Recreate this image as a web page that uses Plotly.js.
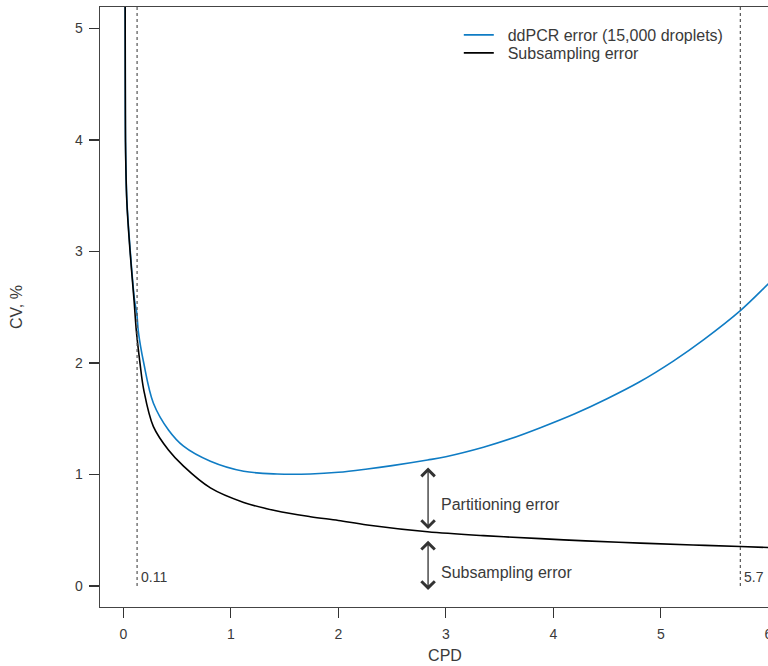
<!DOCTYPE html>
<html>
<head>
<meta charset="utf-8">
<script src="https://cdn.plot.ly/plotly-3.0.1.min.js"></script>
<style>
html, body { margin: 0; padding: 0; overflow: hidden; background: #fff; }
#chart { width: 800px; height: 666px; }
</style>
</head>
<body>
<div id="chart"></div>
<script>
// Series
const subX = [0.017, 0.018, 0.020, 0.032, 0.062, 0.100, 0.120, 0.155, 0.19, 0.28, 0.42, 0.56, 0.81, 1.12, 1.42, 1.74, 2.0, 2.27, 2.83, 3.35, 3.88, 4.3, 4.81, 5.3, 5.74, 6.0, 6.2];
const subY = [5.30, 4.60, 4.00, 3.46, 3.01, 2.56, 2.30, 2.00, 1.76, 1.43, 1.22, 1.075, 0.88, 0.75, 0.675, 0.622, 0.588, 0.548, 0.487, 0.452, 0.425, 0.405, 0.385, 0.368, 0.355, 0.345, 0.338];

const ddX = [0.017, 0.018, 0.020, 0.033, 0.064, 0.105, 0.125, 0.14, 0.19, 0.28, 0.42, 0.56, 0.81, 1.12, 1.43, 1.74, 2.0, 2.27, 2.5, 2.83, 3.0, 3.35, 3.6, 3.88, 4.2, 4.50, 4.8, 5.12, 5.4, 5.74, 6.0, 6.2];
const ddY = [5.30, 4.60, 4.00, 3.46, 3.01, 2.56, 2.45, 2.28, 2.00, 1.64, 1.40, 1.255, 1.12, 1.03, 1.005, 1.005, 1.02, 1.05, 1.08, 1.13, 1.16, 1.245, 1.32, 1.42, 1.545, 1.68, 1.83, 2.02, 2.21, 2.47, 2.71, 2.90];

const seriesNames = ["ddPCR error (15,000 droplets)", "Subsampling error"];
const markerX = [0.128, 5.74];
const markerLabels = ["0.11", "5.7"];
const arrowX = 2.835;
const upperArrow = [1.076, 0.511];
const lowerArrow = [0.42, -0.036];
const arrowLabels = ["Partitioning error", "Subsampling error"];
const arrowLabelY = [0.735, 0.117];
const xTicks = [0, 1, 2, 3, 4, 5, 6];
const yTicks = [0, 1, 2, 3, 4, 5];

const textColor = "#3a3a3a";
const family = "Liberation Sans, Arial, sans-serif";
const numFont = { family: family, size: 14, color: textColor };
const txtFont = { family: family, size: 16, color: textColor };
const pad = "\u00a0\u00a0";

const traces = [
  { x: ddX, y: ddY, mode: "lines", name: pad + seriesNames[0], legend: "legend",
    line: { color: "#0f7cc4", width: 1.6, shape: "spline", smoothing: 1 } },
  { x: subX, y: subY, mode: "lines", name: pad + seriesNames[1], legend: "legend2",
    line: { color: "#000000", width: 1.6, shape: "spline", smoothing: 1 } }
];
markerX.forEach(function (mx) {
  traces.push({ x: [mx, mx], y: [0, 6], mode: "lines", showlegend: false, hoverinfo: "skip",
    line: { color: "#555555", width: 1.2, dash: "dot" } });
});

const annotations = [];
markerX.forEach(function (mx, i) {
  annotations.push({ x: mx, y: 0.08, xref: "x", yref: "y", text: markerLabels[i], showarrow: false,
    xanchor: "left", yanchor: "middle", xshift: 2, font: numFont });
});
[upperArrow, lowerArrow].forEach(function (a) {
  annotations.push({ x: arrowX, y: a[1], ax: arrowX, ay: a[0], xref: "x", yref: "y", axref: "x", ayref: "y",
    text: "", showarrow: true, arrowside: "end+start", arrowhead: 4, startarrowhead: 4,
    arrowsize: 2, startarrowsize: 2, arrowwidth: 1.3, arrowcolor: "#333333", standoff: 0, startstandoff: 0 });
});
arrowLabels.forEach(function (t, i) {
  annotations.push({ x: 2.94, y: arrowLabelY[i], xref: "x", yref: "y", text: t, showarrow: false,
    xanchor: "left", yanchor: "middle", font: txtFont });
});

const legendBase = { x: 0.52, xanchor: "left", yanchor: "top", bgcolor: "rgba(0,0,0,0)", font: txtFont };

const layout = {
  width: 800, height: 666,
  margin: { l: 100, r: 10, t: 7, b: 59 },
  paper_bgcolor: "#ffffff", plot_bgcolor: "#ffffff",
  font: txtFont,
  showlegend: true,
  legend: Object.assign({}, legendBase, { y: 0.9817 }),
  legend2: Object.assign({}, legendBase, { y: 0.9517 }),
  xaxis: {
    range: [-0.217, 6.202], tickvals: xTicks, ticktext: xTicks.map(String),
    showgrid: false, zeroline: false, showline: true, mirror: true, linecolor: "#444444", linewidth: 1.3,
    ticks: "outside", ticklen: 10, tickwidth: 1.2, tickcolor: "#333333", tickfont: numFont, ticklabelstandoff: 4,
    title: { text: "CPD", font: txtFont, standoff: 8 }, automargin: false
  },
  yaxis: {
    range: [-0.188, 5.193], tickvals: yTicks, ticktext: yTicks.map(String),
    showgrid: false, zeroline: false, showline: true, mirror: true, linecolor: "#444444", linewidth: 1.3,
    ticks: "outside", ticklen: 10, tickwidth: 1.2, tickcolor: "#333333", tickfont: numFont, ticklabelstandoff: 3,
    title: { text: "CV, %", font: txtFont, standoff: 48 }, automargin: false
  },
  annotations: annotations,
  hovermode: false
};

Plotly.newPlot("chart", traces, layout, { displayModeBar: false, staticPlot: true });
</script>
</body>
</html>
